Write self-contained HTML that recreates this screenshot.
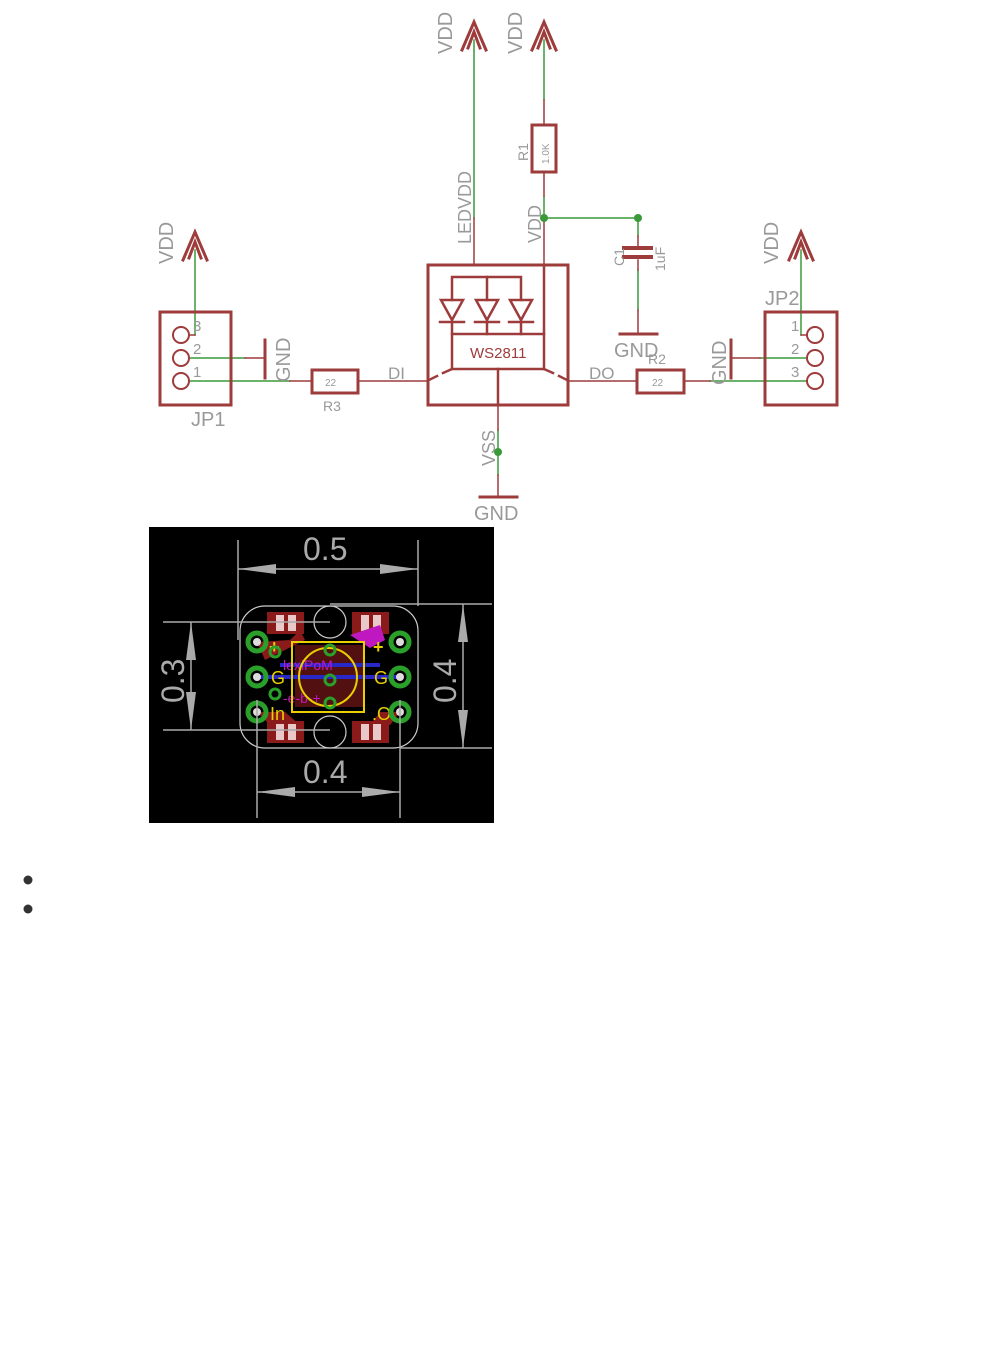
<!DOCTYPE html>
<html><head><meta charset="utf-8"><style>
html,body{margin:0;padding:0;background:#fff;}
svg{display:block;}
text{font-family:"Liberation Sans",sans-serif;}
</style></head><body>
<svg width="996" height="1357" viewBox="0 0 996 1357" xmlns="http://www.w3.org/2000/svg">
<rect width="996" height="1357" fill="#fff"/>
<g fill="none" stroke-linecap="square">
<g stroke="#9e3b3b" stroke-width="3">
<polyline points="462,50 474,22 486,50"/><polyline points="468,48 474,32 480,48"/>
<polyline points="532,50 544,22 556,50"/><polyline points="538,48 544,32 550,48"/>
<polyline points="183,260 195,232 207,260"/><polyline points="189,258 195,242 201,258"/>
<polyline points="789,260 801,232 813,260"/><polyline points="795,258 801,242 807,258"/>
</g>
<g stroke="#3a9a3a" stroke-width="1.5">
<line x1="474" y1="40" x2="474" y2="218"/>
<line x1="544" y1="40" x2="544" y2="100"/>
<line x1="544" y1="196" x2="544" y2="218"/>
<line x1="544" y1="218" x2="638" y2="218"/>
<line x1="638" y1="218" x2="638" y2="236"/>
<line x1="638" y1="270" x2="638" y2="310"/>
<line x1="195" y1="250" x2="195" y2="335"/>
<line x1="189" y1="358" x2="245" y2="358"/>
<line x1="189" y1="381" x2="290" y2="381"/>
<line x1="498" y1="430" x2="498" y2="475"/>
<line x1="710" y1="381" x2="807" y2="381"/>
<line x1="760" y1="358" x2="807" y2="358"/>
<line x1="801" y1="250" x2="801" y2="335"/>
</g>
<g stroke="#9e3b3b" stroke-width="1.5">
<line x1="474" y1="218" x2="474" y2="265"/>
<line x1="544" y1="100" x2="544" y2="125"/>
<line x1="544" y1="172" x2="544" y2="196"/>
<line x1="544" y1="218" x2="544" y2="265"/>
<line x1="638" y1="236" x2="638" y2="246"/>
<line x1="638" y1="260" x2="638" y2="270"/>
<line x1="638" y1="310" x2="638" y2="334"/>
<line x1="245" y1="358" x2="265" y2="358"/>
<line x1="290" y1="381" x2="312" y2="381"/>
<line x1="358" y1="381" x2="428" y2="381"/>
<line x1="568" y1="381" x2="637" y2="381"/>
<line x1="684" y1="381" x2="710" y2="381"/>
<line x1="731" y1="358" x2="760" y2="358"/>
<line x1="498" y1="405" x2="498" y2="430"/>
<line x1="498" y1="475" x2="498" y2="497"/>
<line x1="189" y1="335" x2="195" y2="335"/>
<line x1="807" y1="335" x2="801" y2="335"/>
</g>
<g stroke="#9e3b3b" stroke-width="3">
<rect x="160" y="312" width="71" height="93"/>
<rect x="765" y="312" width="72" height="93"/>
<line x1="265" y1="340" x2="265" y2="378"/>
<line x1="731" y1="340" x2="731" y2="378"/>
<line x1="480" y1="497" x2="517" y2="497"/>
<line x1="620" y1="334" x2="657" y2="334"/>
<rect x="312" y="370" width="46" height="23"/>
<rect x="637" y="370" width="47" height="23"/>
<rect x="532" y="125" width="24" height="47"/>
<line x1="624" y1="248" x2="651" y2="248" stroke-width="4"/>
<line x1="624" y1="257" x2="651" y2="257" stroke-width="4"/>
<rect x="428" y="265" width="140" height="140"/>
</g>
<g stroke="#9e3b3b" stroke-width="2">
<circle cx="181" cy="335" r="8"/><circle cx="181" cy="358" r="8"/><circle cx="181" cy="381" r="8"/>
<circle cx="815" cy="335" r="8"/><circle cx="815" cy="358" r="8"/><circle cx="815" cy="381" r="8"/>
</g>
<g stroke="#9e3b3b" stroke-width="2.5">
<polyline points="452,300 452,277 521,277 521,300"/>
<line x1="487" y1="277" x2="487" y2="300"/>
<polygon points="441,300 463,300 452,320"/><polygon points="476,300 498,300 487,320"/><polygon points="510,300 532,300 521,320"/>
<line x1="440" y1="322" x2="464" y2="322"/><line x1="475" y1="322" x2="499" y2="322"/><line x1="509" y1="322" x2="533" y2="322"/>
<line x1="452" y1="322" x2="452" y2="369"/><line x1="487" y1="322" x2="487" y2="334"/><line x1="521" y1="322" x2="521" y2="334"/>
<line x1="452" y1="334" x2="544" y2="334"/>
<line x1="544" y1="265" x2="544" y2="369"/>
<line x1="452" y1="369" x2="544" y2="369"/>
<line x1="498" y1="369" x2="498" y2="405"/>
<line x1="452" y1="369" x2="443" y2="373"/><line x1="437" y1="376" x2="429" y2="380"/>
<line x1="544" y1="369" x2="553" y2="373"/><line x1="559" y1="376" x2="567" y2="380"/>
</g>
</g>
<g fill="#3a9a3a"><circle cx="544" cy="218" r="4"/><circle cx="638" cy="218" r="4"/><circle cx="498" cy="452" r="4"/></g>
<g fill="#999" font-size="20">
<text transform="translate(452,54) rotate(-90)">VDD</text>
<text transform="translate(522,54) rotate(-90)">VDD</text>
<text transform="translate(173,264) rotate(-90)">VDD</text>
<text transform="translate(778,264) rotate(-90)">VDD</text>
<text transform="translate(471,244) rotate(-90)" font-size="18">LEDVDD</text>
<text transform="translate(541,243) rotate(-90)" font-size="18">VDD</text>
<text transform="translate(290,382) rotate(-90)">GND</text>
<text transform="translate(726,385) rotate(-90)">GND</text>
<text transform="translate(495,466) rotate(-90)" font-size="18">VSS</text>
<text x="474" y="520">GND</text>
<text x="614" y="357">GND</text>
<text x="191" y="426">JP1</text>
<text x="765" y="305">JP2</text>
<text x="388" y="379" font-size="17">DI</text>
<text x="589" y="379" font-size="17">DO</text>
<text x="323" y="411" font-size="14">R3</text>
<text x="648" y="364" font-size="14">R2</text>
<text transform="translate(528,161) rotate(-90)" font-size="14">R1</text>
<text transform="translate(624,266) rotate(-90)" font-size="14">C1</text>
<text transform="translate(665,271) rotate(-90)" font-size="14">1uF</text>
<text transform="translate(549,164) rotate(-90)" font-size="10" font-family="Liberation Mono,monospace">1.0K</text>
<text x="325" y="386" font-size="10">22</text>
<text x="652" y="386" font-size="10">22</text>
<g font-size="15"><text x="193" y="331">3</text><text x="193" y="354">2</text><text x="193" y="377">1</text>
<text x="791" y="331">1</text><text x="791" y="354">2</text><text x="791" y="377">3</text></g>
</g>
<text x="470" y="358" fill="#9e3b3b" font-size="15">WS2811</text>

<rect x="149" y="527" width="345" height="296" fill="#000"/>
<g fill="#8b1a1a">
<rect x="267" y="612" width="37" height="22"/><rect x="352" y="612" width="37" height="22"/>
<rect x="267" y="721" width="37" height="22"/><rect x="352" y="721" width="37" height="22"/>
<rect x="295" y="645" width="70" height="62" opacity="0.6"/>
<polygon points="257,642 290,640 300,630 305,640 265,660"/>
<polygon points="257,712 285,712 300,725 270,725"/>
<polygon points="400,712 380,712 370,725 390,725"/>
</g>
<g fill="#e8c8c8"><rect x="276" y="615" width="8" height="16"/><rect x="288" y="615" width="8" height="16"/><rect x="361" y="615" width="8" height="16"/><rect x="373" y="615" width="8" height="16"/>
<rect x="276" y="724" width="8" height="16"/><rect x="288" y="724" width="8" height="16"/><rect x="361" y="724" width="8" height="16"/><rect x="373" y="724" width="8" height="16"/></g>
<g stroke="#2828c8" stroke-width="4"><line x1="257" y1="677" x2="400" y2="677"/><line x1="280" y1="665" x2="380" y2="665"/></g>
<polygon points="350,635 380,625 385,640 370,648" fill="#c018c0"/>
<text x="283" y="670" fill="#c018c0" font-size="14" font-family="Liberation Mono,monospace">lexiPoM</text>
<text x="283" y="703" fill="#c018c0" font-size="14" font-family="Liberation Mono,monospace">-e-b-+</text>
<g fill="none" stroke="#e8d000" stroke-width="2"><rect x="292" y="642" width="72" height="70"/><circle cx="328" cy="677" r="29"/></g>
<g fill="#e8d000" font-size="18"><text x="269" y="653" font-weight="bold">+</text><text x="373" y="653" font-weight="bold">+</text>
<text x="271" y="684">G</text><text x="374" y="684">G</text><text x="270" y="720">In</text><text x="372" y="720">.O</text></g>
<g fill="none" stroke="#2aa02a" stroke-width="5">
<circle cx="257" cy="642" r="9"/><circle cx="257" cy="677" r="9"/><circle cx="257" cy="712" r="9"/>
<circle cx="400" cy="642" r="9"/><circle cx="400" cy="677" r="9"/><circle cx="400" cy="712" r="9"/>
</g>
<g fill="none" stroke="#2aa02a" stroke-width="3"><circle cx="275" cy="652" r="5"/><circle cx="275" cy="694" r="5"/><circle cx="330" cy="650" r="5"/><circle cx="330" cy="680" r="5"/><circle cx="330" cy="703" r="5"/></g>
<g fill="#ddd"><circle cx="257" cy="642" r="4"/><circle cx="257" cy="677" r="4"/><circle cx="257" cy="712" r="4"/><circle cx="400" cy="642" r="4"/><circle cx="400" cy="677" r="4"/><circle cx="400" cy="712" r="4"/></g>
<g fill="none" stroke="#ccc" stroke-width="1.2">
<rect x="240" y="606" width="178" height="142" rx="25"/>
<circle cx="330" cy="622" r="16"/><circle cx="330" cy="732" r="16"/>
</g>
<g stroke="#aaa" stroke-width="1.5" fill="none">
<line x1="238" y1="540" x2="238" y2="640"/><line x1="418" y1="540" x2="418" y2="606"/>
<line x1="238" y1="569" x2="418" y2="569"/>
<line x1="257" y1="700" x2="257" y2="818"/><line x1="400" y1="700" x2="400" y2="818"/>
<line x1="257" y1="792" x2="400" y2="792"/>
<line x1="163" y1="622" x2="330" y2="622"/><line x1="163" y1="730" x2="330" y2="730"/>
<line x1="191" y1="622" x2="191" y2="730"/>
<line x1="330" y1="604" x2="492" y2="604"/><line x1="400" y1="748" x2="492" y2="748"/>
<line x1="463" y1="604" x2="463" y2="748"/>
</g>
<g fill="#aaa">
<polygon points="238,569 276,564 276,574"/><polygon points="418,569 380,564 380,574"/>
<polygon points="257,792 295,787 295,797"/><polygon points="400,792 362,787 362,797"/>
<polygon points="191,622 186,660 196,660"/><polygon points="191,730 186,692 196,692"/>
<polygon points="463,604 458,642 468,642"/><polygon points="463,748 458,710 468,710"/>
</g>
<g fill="#aaa" font-size="32"><text x="303" y="560">0.5</text><text x="303" y="783">0.4</text>
<text transform="translate(184,703) rotate(-90)">0.3</text><text transform="translate(456,703) rotate(-90)">0.4</text></g>

<circle cx="28" cy="880" r="4.5" fill="#333"/>
<circle cx="28" cy="909" r="4.5" fill="#333"/>
</svg>
</body></html>
